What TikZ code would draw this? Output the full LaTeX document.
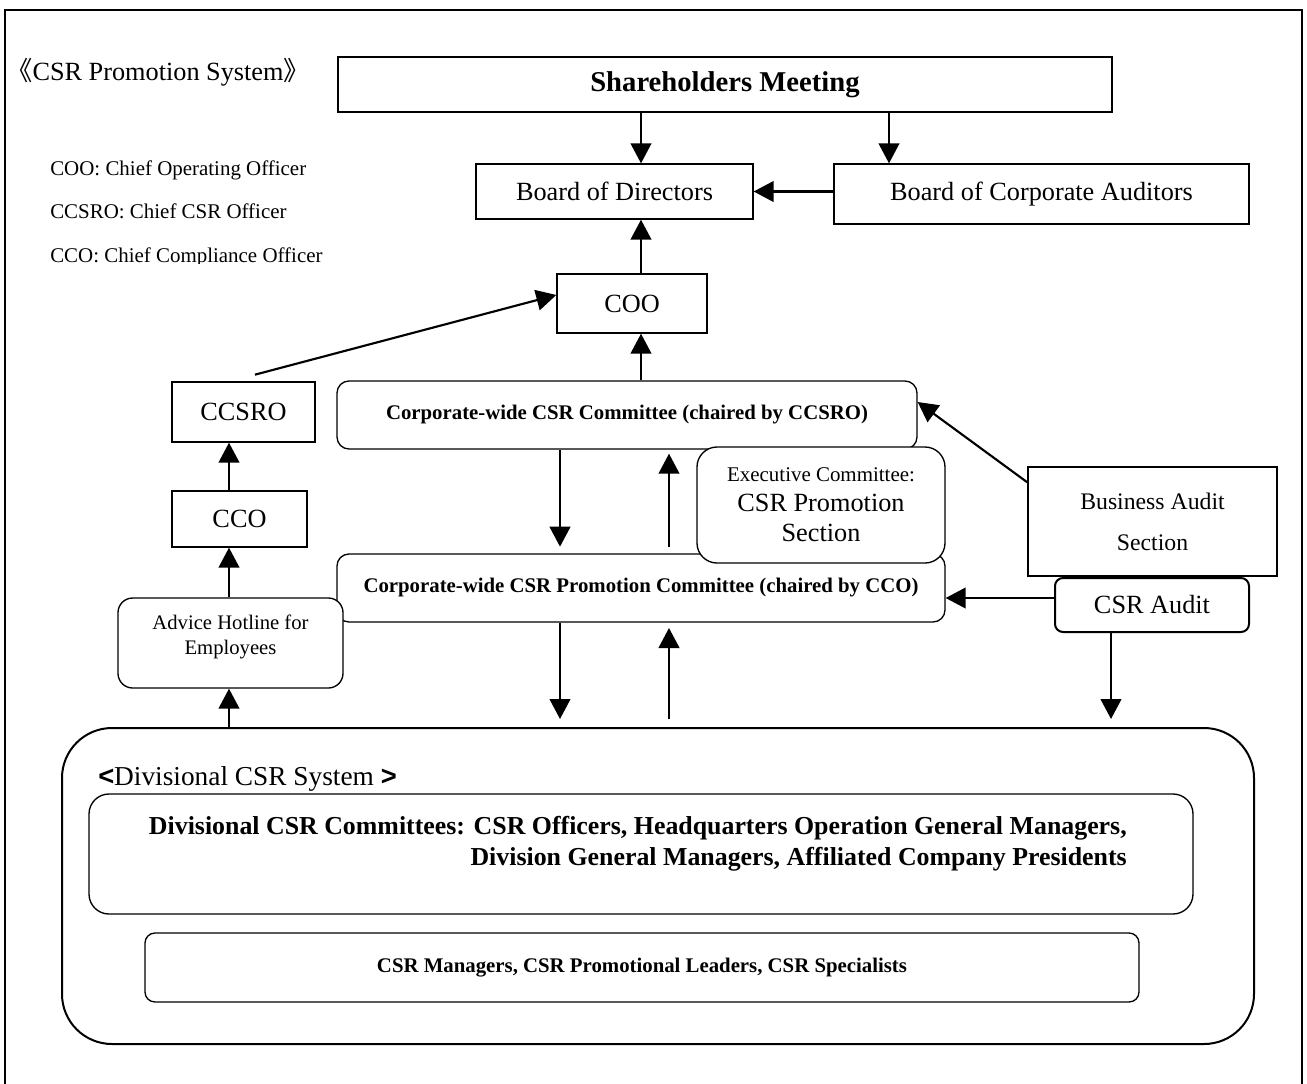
\documentclass[tikz,border=0pt]{standalone}
\usepackage{fontspec}
\setmainfont{Liberation Serif}
\newfontfamily\cjk{Noto Sans CJK JP}
\newfontfamily\chev{Liberation Sans}
\usetikzlibrary{arrows.meta}

\begin{document}
\begin{tikzpicture}[x = 0.75pt, y = -0.75pt,
    box/.style = {draw, line width=1pt, fill=white, inner sep=0pt, align=center},
    rbox/.style = {box, rounded corners=#1},
    rbox/.default = 9pt,
    big/.style = {font=\fontsize{19.7}{24}\selectfont},
    sml/.style = {font=\fontsize{15.7}{19}\selectfont},
    bsml/.style = {font=\fontsize{15.6}{19}\selectfont\bfseries},
    arr/.style = {line width=1.6pt, -{Triangle[length=15pt, width=15.5pt]}}]
    \useasboundingbox (0,0) rectangle (1307,1083);
    \draw[line width=1.5pt] (5,10) rectangle (1302,1100);

    \node[big, anchor=base west, inner sep=0pt] (title) at (6,80) {{\cjk 《}CSR Promotion System{\cjk 》}};
    \begin{scope}
        \clip (0,0) rectangle (420,263);
        \node[sml, anchor=base west, inner sep=0pt] (lcoo) at (50,175) {COO: Chief Operating Officer};
        \node[sml, anchor=base west, inner sep=0pt] (lccsro) at (50,218) {CCSRO: Chief CSR Officer};
        \node[sml, anchor=base west, inner sep=0pt] (lcco) at (50,262) {CCO: Chief Compliance Officer};
    \end{scope}

    \node[box, minimum width=580.5pt, minimum height=41.25pt, font=\fontsize{21.5}{26}\selectfont\bfseries] (share) at (725,84.5) {Shareholders Meeting};
    \node[box, big, minimum width=207.75pt, minimum height=41.25pt] (bod) at (614.5,191.5) {Board of Directors};
    \node[box, big, minimum width=311.25pt, minimum height=45pt] (boca) at (1041.5,194) {Board of Corporate Auditors};
    \node[box, big, minimum width=112.5pt, minimum height=44.25pt] (coo) at (632,303.5) {COO};
    \node[rbox, bsml, minimum width=435pt, minimum height=51pt] (cwc) at (627,415) {Corporate-wide CSR Committee (chaired by CCSRO)};
    \node[rbox, bsml, minimum width=456pt, minimum height=51pt] (cwp) at (641,588) {Corporate-wide CSR Promotion Committee (chaired by CCO)};
    \node[box, big, minimum width=107.25pt, minimum height=45pt] (ccsro) at (243.5,412) {CCSRO};
    \node[box, big, minimum width=101.25pt, minimum height=42pt] (cco) at (239.5,519) {CCO};
    \node[rbox=11pt, minimum width=168.75pt, minimum height=67.5pt] (hotline) at (230.5,643) {};
    \node[font=\fontsize{15.5}{18.75}\selectfont, align=center, inner sep=0pt] (hottext) at (230.5,637) {Advice Hotline for\\Employees};
    \node[box, minimum width=186.75pt, minimum height=81.75pt, font=\fontsize{17.8}{30.75}\selectfont] (bas) at (1152.5,521.5) {Business Audit\\Section};
    \node[rbox=6pt, big, line width=1.5pt, minimum width=145.5pt, minimum height=40.5pt] (audit) at (1152,605) {CSR Audit};

    \node[rbox=37.5pt, line width=1.5pt, minimum width=894pt, minimum height=237pt] (div) at (658,886) {};
    \node[font=\fontsize{20.5}{24}\selectfont, anchor=base west, inner sep=0pt] (divlbl) at (98,785) {{\chev\bfseries <}Divisional CSR System {\chev\bfseries >}};
    \node[rbox=15pt, minimum width=828pt, minimum height=90pt] (divcom) at (641,854) {};
    \node[font=\fontsize{19.4}{23.25}\selectfont\bfseries, align=right, anchor=east, inner sep=0pt] (divtext) at (1127,844)
        {Divisional CSR Committees: CSR Officers, Headquarters Operation General Managers,\\Division General Managers, Affiliated Company Presidents};
    \node[rbox=7.5pt, bsml, minimum width=745.5pt, minimum height=51.75pt] (mgr) at (642,967.5) {CSR Managers, CSR Promotional Leaders, CSR Specialists};

    \coordinate (xa) at (641,0);
    \coordinate (xb) at (889,0);
    \coordinate (xc) at (560,0);
    \coordinate (xd) at (669,0);
    \coordinate (xe) at (229,0);
    \coordinate (xf) at (1111,0);
    \coordinate (ya) at (0,598);

    \draw[arr] (share.south -| xa) -- (bod.north -| xa);
    \draw[arr] (share.south -| xb) -- (boca.north -| xb);
    \draw[arr] (boca.west |- bod.east) -- (bod.east);
    \draw[arr] (coo.north -| xa) -- (bod.south -| xa);
    \draw[arr] (cwc.north -| xa) -- (coo.south -| xa);
    \draw[arr] ([xshift=8.6pt, yshift=5pt]ccsro.north) -- ([yshift=6.4pt]coo.west);
    \draw[arr, shorten >=5pt] (cwc.south -| xc) -- (cwp.north -| xc);
    \draw[arr, shorten <=5pt, shorten >=3pt] (cwp.north -| xd) -- (cwc.south -| xd);
    \draw[arr] ([yshift=-12pt]bas.north west) -- ([yshift=9.75pt]cwc.east);
    \draw[arr] (audit.west |- ya) -- (cwp.east |- ya);
    \draw[arr, shorten >=6pt] (audit.south -| xf) -- (div.north -| xf);
    \draw[arr, shorten >=6pt] (cwp.south -| xc) -- (div.north -| xc);
    \draw[arr, shorten <=6pt, shorten >=4pt] (div.north -| xd) -- (cwp.south -| xd);
    \draw[arr] (div.north -| xe) -- (hotline.south -| xe);
    \draw[arr] (hotline.north -| xe) -- (cco.south -| xe);
    \draw[arr] (cco.north -| xe) -- (ccsro.south -| xe);

    \node[rbox=15pt, minimum width=186pt, minimum height=87pt, font=\fontsize{19.7}{22.5}\selectfont] (exec) at (821,505)
        {{\fontsize{15.7}{22.5}\selectfont Executive Committee:}\\CSR Promotion\\Section};
\end{tikzpicture}
\end{document}
